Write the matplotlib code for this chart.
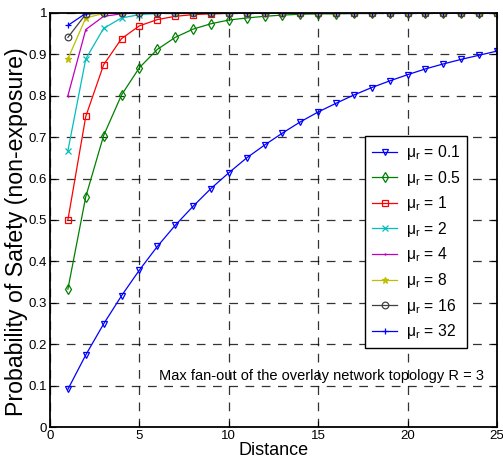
import matplotlib
matplotlib.use("Agg")
import matplotlib.pyplot as plt
import numpy as np

plt.rcParams['font.family'] = ['Liberation Sans', 'DejaVu Sans']
plt.rcParams['mathtext.fontset'] = 'custom'
plt.rcParams['mathtext.rm'] = 'Liberation Sans'

distance = list(range(1, 26))

mu_labels = ['0.1', '0.5', '1', '2', '4', '8', '16', '32']

p_mu_0_1 = [0.091, 0.174, 0.249, 0.317, 0.379, 0.436, 0.487, 0.533, 0.576, 0.614,
            0.650, 0.681, 0.710, 0.737, 0.761, 0.782, 0.802, 0.820, 0.836, 0.851,
            0.865, 0.877, 0.888, 0.898, 0.908]
p_mu_0_5 = [0.333, 0.556, 0.704, 0.802, 0.868, 0.912, 0.941, 0.961, 0.974, 0.983,
            0.988, 0.992, 0.995, 0.997, 0.998, 0.998, 0.999, 0.999, 1.0, 1.0,
            1.0, 1.0, 1.0, 1.0, 1.0]
p_mu_1 = [0.5, 0.75, 0.875, 0.938, 0.969, 0.984, 0.992, 0.996, 0.998, 0.999,
          1.0, 1.0, 1.0, 1.0, 1.0, 1.0, 1.0, 1.0, 1.0, 1.0,
          1.0, 1.0, 1.0, 1.0, 1.0]
p_mu_2 = [0.667, 0.889, 0.963, 0.988, 0.996, 0.999, 1.0, 1.0, 1.0, 1.0,
          1.0, 1.0, 1.0, 1.0, 1.0, 1.0, 1.0, 1.0, 1.0, 1.0,
          1.0, 1.0, 1.0, 1.0, 1.0]
p_mu_4 = [0.8, 0.96, 0.992, 0.998, 1.0, 1.0, 1.0, 1.0, 1.0, 1.0,
          1.0, 1.0, 1.0, 1.0, 1.0, 1.0, 1.0, 1.0, 1.0, 1.0,
          1.0, 1.0, 1.0, 1.0, 1.0]
p_mu_8 = [0.889, 0.988, 0.999, 1.0, 1.0, 1.0, 1.0, 1.0, 1.0, 1.0,
          1.0, 1.0, 1.0, 1.0, 1.0, 1.0, 1.0, 1.0, 1.0, 1.0,
          1.0, 1.0, 1.0, 1.0, 1.0]
p_mu_16 = [0.941, 0.997, 1.0, 1.0, 1.0, 1.0, 1.0, 1.0, 1.0, 1.0,
           1.0, 1.0, 1.0, 1.0, 1.0, 1.0, 1.0, 1.0, 1.0, 1.0,
           1.0, 1.0, 1.0, 1.0, 1.0]
p_mu_32 = [0.970, 0.999, 1.0, 1.0, 1.0, 1.0, 1.0, 1.0, 1.0, 1.0,
           1.0, 1.0, 1.0, 1.0, 1.0, 1.0, 1.0, 1.0, 1.0, 1.0,
           1.0, 1.0, 1.0, 1.0, 1.0]

series = [p_mu_0_1, p_mu_0_5, p_mu_1, p_mu_2, p_mu_4, p_mu_8, p_mu_16, p_mu_32]

colors = ['#0000ff', '#008000', '#ff0000', '#00bfbf', '#bf00bf', '#bfbf00', '#404040', '#0000ff']
markers = ['v', 'd', 's', 'x', '.', '*', 'o', '+']

fig = plt.figure(figsize=(5.03, 4.65), dpi=100)
ax = fig.add_axes([50 / 503, 38 / 465, 447 / 503, 414 / 465])

for vals, lab, c, m in zip(series, mu_labels, colors, markers):
    filled = m in ('.', '*', 'x', '+')
    ax.plot(distance, vals, color=c, marker=m, lw=0.9, ms=4.8 if m != '.' else 1.5,
            mfc=c if filled else 'none', mec=c, mew=0.9,
            label='\u03bc$_\\mathregular{r}$ = ' + lab)

ax.set_xlim(0, 25)
ax.set_ylim(0, 1)
ax.set_xticks([0, 5, 10, 15, 20, 25])
ax.set_yticks(np.arange(0, 1.01, 0.1))
ax.set_yticklabels(['0', '0.1', '0.2', '0.3', '0.4', '0.5', '0.6', '0.7', '0.8', '0.9', '1'])
ax.tick_params(direction='in', labelsize=9.5, length=4, top=True, right=True, pad=2)
ax.grid(True, color='black', linestyle=(0, (7, 6)), lw=0.9, alpha=0.8)
for s in ax.spines.values():
    s.set_linewidth(1.3)

ax.set_xlabel('Distance', fontsize=13, labelpad=0)
ax.set_ylabel('Probability of Safety (non-exposure)', fontsize=16.7)
ax.yaxis.set_label_coords(-0.05, 0.471)

ax.text(15.2, 0.123, 'Max fan-out of the overlay network topology R = 3',
        fontsize=10.5, ha='center', va='center')

leg = ax.legend(loc='upper left', bbox_to_anchor=(315 / 447, (427 - 136) / 414),
                fontsize=11.3, frameon=True, fancybox=False, edgecolor='black',
                framealpha=1, borderpad=0.45, labelspacing=0.42, handlelength=1.6,
                handletextpad=0.55, borderaxespad=0)
leg.get_frame().set_linewidth(1.0)

fig.savefig('out.png', dpi=100)
